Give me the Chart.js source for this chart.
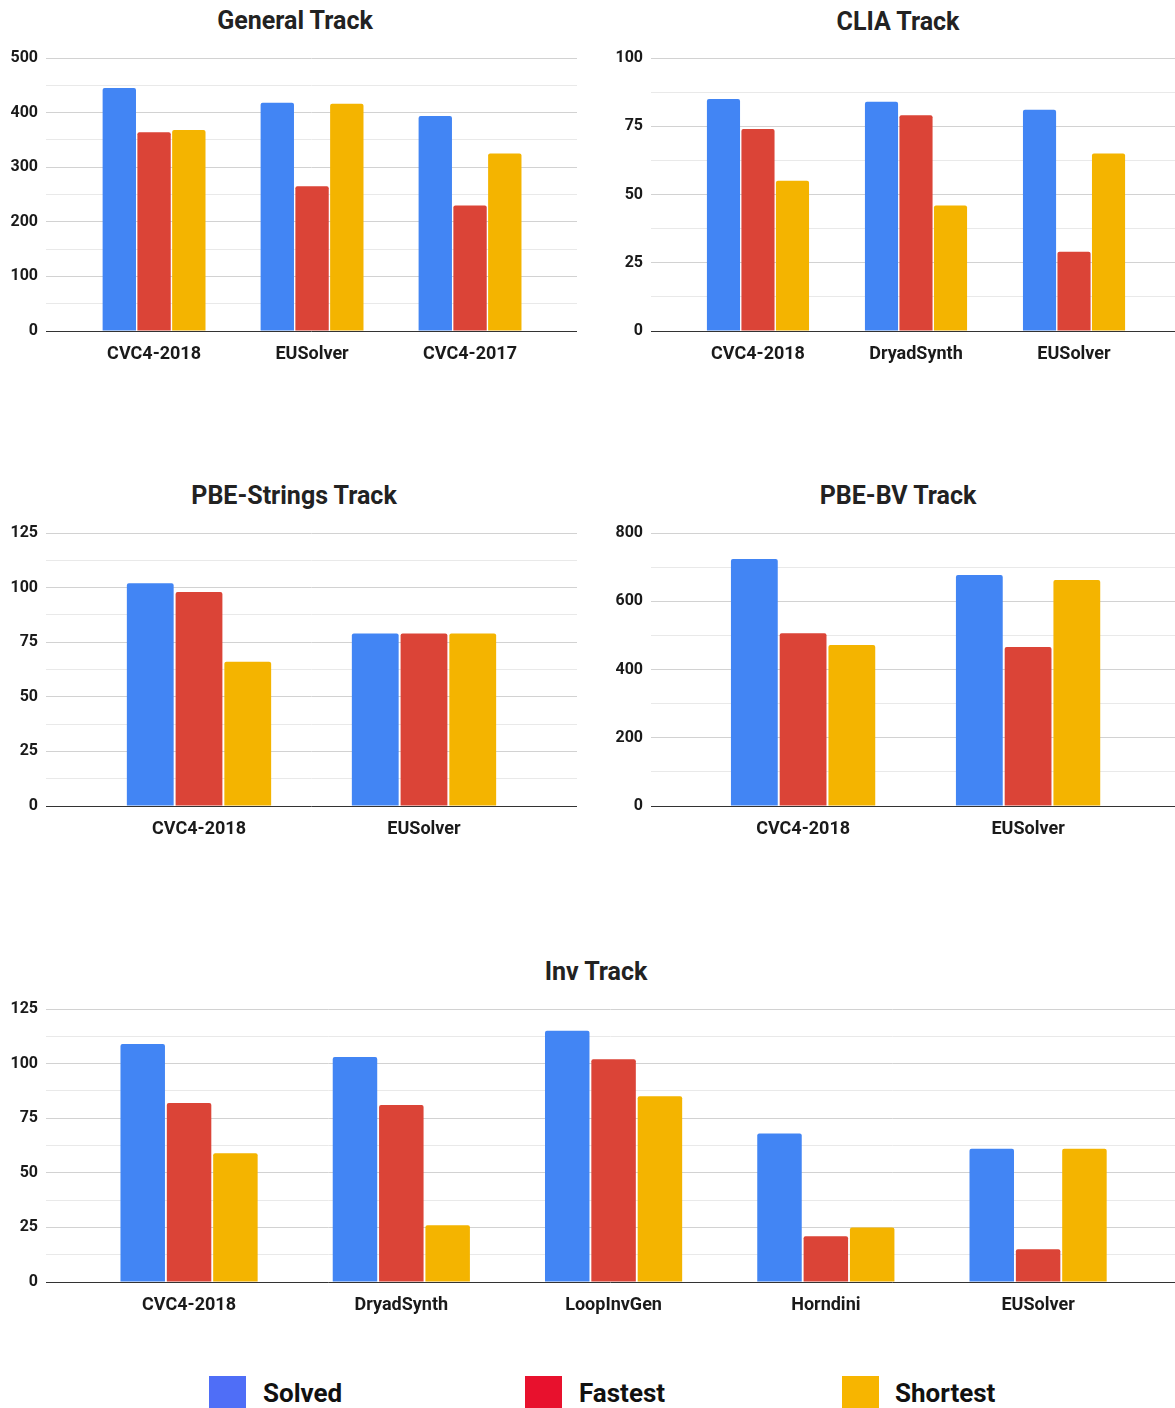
<!DOCTYPE html>
<html>
<head>
<meta charset="utf-8">
<script src="https://cdn.jsdelivr.net/npm/chart.js@4.4.1/dist/chart.umd.min.js"></script>
<style>
  body { margin: 0; background: #fff; width: 1175px; height: 1408px; overflow: hidden; position: relative; font-family: Roboto, "Noto Sans", sans-serif; }
  canvas { position: absolute; }
  .title { position: absolute; font-weight: bold; font-size: 25px; color: #222; transform: translate(-50%, -50%); white-space: nowrap; }
  .sw { position: absolute; width: 37px; height: 40px; top: 1376px; }
  .lg { position: absolute; top: 1376px; font-weight: bold; font-size: 26px; line-height: 34px; color: #111; }
</style>
</head>
<body>

<div class="title" style="left:295px; top:20px">General Track</div>
<div class="title" style="left:898px; top:21px">CLIA Track</div>
<div class="title" style="left:294px; top:495px">PBE-Strings Track</div>
<div class="title" style="left:898px; top:495px">PBE-BV Track</div>
<div class="title" style="left:596px; top:971px">Inv Track</div>

<canvas id="general" width="577" height="380" style="left:0; top:0"></canvas>
<canvas id="clia" width="570" height="380" style="left:605px; top:0"></canvas>
<canvas id="strings" width="577" height="380" style="left:0; top:475px"></canvas>
<canvas id="bv" width="570" height="380" style="left:605px; top:475px"></canvas>
<canvas id="inv" width="1175" height="380" style="left:0; top:951px"></canvas>

<div class="sw" style="left:209px; background:#4f6ef7"></div>
<div class="lg" style="left:263px">Solved</div>
<div class="sw" style="left:525px; background:#e8112d"></div>
<div class="lg" style="left:579px">Fastest</div>
<div class="sw" style="left:842px; background:#f7b500"></div>
<div class="lg" style="left:895px">Shortest</div>

<script>
// values

const generalLabels = ["CVC4-2018", "EUSolver", "CVC4-2017"];
const generalSolved = [445, 418, 394];
const generalFastest = [364, 265, 230];
const generalShortest = [368, 416, 325];

const cliaLabels = ["CVC4-2018", "DryadSynth", "EUSolver"];
const cliaSolved = [85, 84, 81];
const cliaFastest = [74, 79, 29];
const cliaShortest = [55, 46, 65];

const stringsLabels = ["CVC4-2018", "EUSolver"];
const stringsSolved = [102, 79];
const stringsFastest = [98, 79];
const stringsShortest = [66, 79];

const bvLabels = ["CVC4-2018", "EUSolver"];
const bvSolved = [724, 677];
const bvFastest = [506, 466];
const bvShortest = [472, 662];

const invLabels = ["CVC4-2018", "DryadSynth", "LoopInvGen", "Horndini", "EUSolver"];
const invSolved = [109, 103, 115, 68, 61];
const invFastest = [82, 81, 102, 21, 15];
const invShortest = [59, 26, 85, 25, 61];

const BLUE = "#4285f4", RED = "#db4437", YELLOW = "#f4b400";

// x is a linear axis so the groups can sit with the same side margins as the original
function makeChart(id, labels, solved, fastest, shortest, max, step, labelEvery, xmin, xmax, catPct) {
    let ctx = document.getElementById(id).getContext("2d");
    let ds = (label, data, color) => ({
        label: label,
        data: data.map((v, i) => ({ x: i, y: v })),
        backgroundColor: color,
        borderWidth: 0,
        borderRadius: { topLeft: 2, topRight: 2 },
        borderSkipped: "bottom",
        barPercentage: 0.96,
        categoryPercentage: catPct
    });
    return new Chart(ctx, {
        type: "bar",
        data: {
            datasets: [
                ds("Solved", solved, BLUE),
                ds("Fastest", fastest, RED),
                ds("Shortest", shortest, YELLOW)
            ]
        },
        options: {
            responsive: false,
            animation: false,
            devicePixelRatio: 1,
            layout: { padding: { top: 58, right: 0, bottom: 0, left: 0 } },
            plugins: { legend: { display: false }, title: { display: false }, tooltip: { enabled: false } },
            scales: {
                x: {
                    type: "linear",
                    min: xmin,
                    max: xmax,
                    offset: false,
                    grid: { display: false, drawTicks: false },
                    border: { display: false },
                    ticks: {
                        stepSize: 1,
                        includeBounds: false,
                        autoSkip: false,
                        maxRotation: 0,
                        color: "#1a1a1a",
                        padding: 13,
                        font: { family: "Roboto", size: 18, weight: "bold" },
                        callback: (v) => (Number.isInteger(v) && labels[v] !== undefined ? labels[v] : "")
                    },
                    afterFit: (s) => { s.height = 49; }
                },
                y: {
                    min: 0,
                    max: max,
                    border: { display: false },
                    grid: {
                        drawTicks: false,
                        lineWidth: 1,
                        color: (c) => {
                            let v = c.tick ? c.tick.value : 0;
                            if (v === 0) return "#333";
                            return (v % labelEvery === 0) ? "#d2d2d2" : "#e9e9e9";
                        }
                    },
                    ticks: {
                        stepSize: step,
                        padding: 8,
                        color: "#1a1a1a",
                        font: { family: "Roboto", size: 16, weight: "bold" },
                        callback: (v) => (v % labelEvery === 0 ? v : "")
                    },
                    afterFit: (s) => { s.width = 46; }
                }
            }
        }
    });
}

makeChart("general", generalLabels, generalSolved, generalFastest, generalShortest, 500, 50, 100, -0.684, 2.677, 0.66);
makeChart("clia", cliaLabels, cliaSolved, cliaFastest, cliaShortest, 100, 12.5, 25, -0.677, 2.639, 0.655);
makeChart("strings", stringsLabels, stringsSolved, stringsFastest, stringsShortest, 125, 12.5, 25, -0.68, 1.68, 0.65);
makeChart("bv", bvLabels, bvSolved, bvFastest, bvShortest, 800, 100, 200, -0.676, 1.653, 0.65);
makeChart("inv", invLabels, invSolved, invFastest, invShortest, 125, 12.5, 25, -0.674, 4.645, 0.655);
</script>
</body>
</html>
